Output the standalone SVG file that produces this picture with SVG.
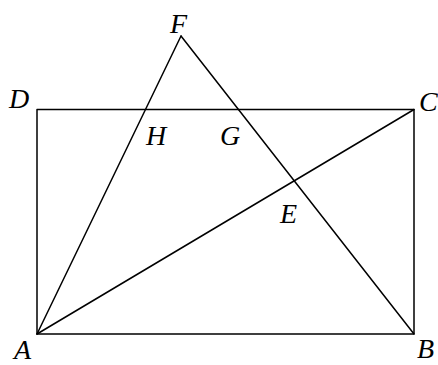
<svg xmlns="http://www.w3.org/2000/svg" width="438" height="365" viewBox="0 0 438 365">
<style>
.l{stroke:#000;stroke-width:1.5;fill:none;stroke-linecap:round;stroke-linejoin:round}
.t{font-family:'Liberation Serif',serif;font-style:italic;font-size:28px;fill:#000}
</style>
<rect width="438" height="365" fill="#fff"/>
<g id="connectors">
<polygon class="l" points="37,109.5 414,109.5 414,334 37,334"/>
<line class="l" x1="37" y1="334" x2="181" y2="36"/>
<line class="l" x1="181" y1="36" x2="414" y2="334"/>
<line class="l" x1="37" y1="334" x2="414" y2="109.5"/>
</g>
<g id="A"><text class="t" x="14" y="359">A</text></g>
<g id="B"><text class="t" x="417" y="358">B</text></g>
<g id="C"><text class="t" x="419" y="111">C</text></g>
<g id="D"><text class="t" x="9" y="108">D</text></g>
<g id="F"><text class="t" x="170" y="33">F</text></g>
<g id="H"><text class="t" x="146" y="145">H</text></g>
<g id="G"><text class="t" x="220" y="145">G</text></g>
<g id="E"><text class="t" x="280" y="223">E</text></g>
</svg>
